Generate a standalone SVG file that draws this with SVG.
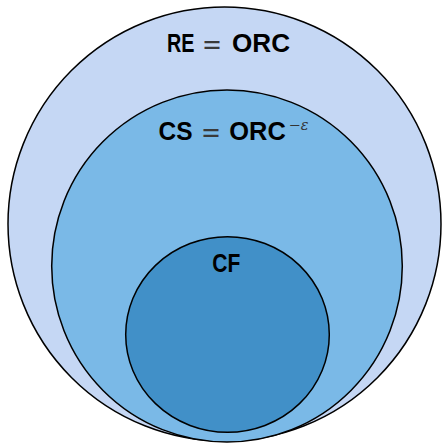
<svg xmlns="http://www.w3.org/2000/svg" width="442" height="443" viewBox="0 0 442 443">
<style>
.c{stroke:#000;stroke-width:1.5}
.l{font-family:"Liberation Sans",Arial,sans-serif;font-weight:bold;font-size:25px;fill:#000}
.eq{font-family:"DejaVu Serif","Liberation Serif",serif;font-size:27px;fill:#3a3a3a}
.sup{font-family:"DejaVu Serif","Liberation Serif",serif;font-style:italic;font-size:14.5px;fill:#333}
</style>
<rect width="442" height="443" fill="#fff"/>
<g id="re">
<ellipse class="c" cx="224.5" cy="224" rx="216.5" ry="217" fill="#C5D7F4"/>
<text class="l" x="167" y="52.3" textLength="27.5" lengthAdjust="spacingAndGlyphs">RE</text>
<text class="eq" x="202" y="54.3" textLength="20" lengthAdjust="spacingAndGlyphs">=</text>
<text class="l" x="232" y="52.3" textLength="58" lengthAdjust="spacingAndGlyphs">ORC</text>
</g>
<g id="cs">
<ellipse class="c" cx="227" cy="266" rx="175.3" ry="176" fill="#7AB9E7"/>
<text class="l" x="158.5" y="139.5" textLength="34" lengthAdjust="spacingAndGlyphs">CS</text>
<text class="eq" x="201" y="141.5" textLength="20" lengthAdjust="spacingAndGlyphs">=</text>
<text class="l" x="229.3" y="139.5" textLength="56.5" lengthAdjust="spacingAndGlyphs">ORC</text>
<text class="sup" x="288.5" y="129.5">−ε</text>
</g>
<g id="cf">
<ellipse class="c" cx="227.5" cy="334.5" rx="101.8" ry="97.8" fill="#4190C8"/>
<text class="l" x="212.3" y="272" textLength="28" lengthAdjust="spacingAndGlyphs">CF</text>
</g>
<g id="connectors"/>
</svg>
